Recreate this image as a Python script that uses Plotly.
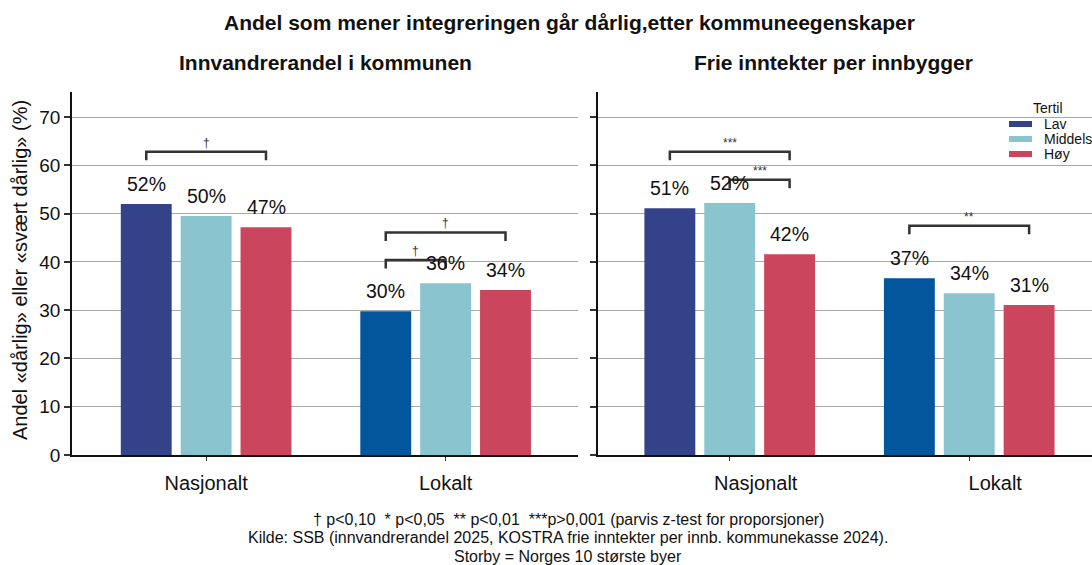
import plotly.graph_objects as go

# ---------------- data ----------------
categories = ["Nasjonalt", "Lokalt"]
tertiles = ["Lav", "Middels", "Høy"]

innv_lav = [52.0, 29.8]
innv_mid = [49.5, 35.6]
innv_hoy = [47.2, 34.2]
innv_lab_lav = ["52%", "30%"]
innv_lab_mid = ["50%", "36%"]
innv_lab_hoy = ["47%", "34%"]

frie_lav = [51.1, 36.6]
frie_mid = [52.2, 33.5]
frie_hoy = [41.6, 31.1]
frie_lab_lav = ["51%", "37%"]
frie_lab_mid = ["52%", "34%"]
frie_lab_hoy = ["42%", "31%"]

# significance brackets: (panel, category index, from tertile, to tertile, y level, symbol)
brackets = [
    (1, 0, 0, 2, 62.8, "†"),
    (1, 1, 0, 2, 46.1, "†"),
    (1, 1, 0, 1, 40.4, "†"),
    (2, 0, 0, 2, 62.8, "***"),
    (2, 0, 1, 2, 57.0, "***"),
    (2, 1, 0, 2, 47.5, "**"),
]

title = "Andel som mener integreringen går dårlig,etter kommuneegenskaper"
sub1 = "Innvandrerandel i kommunen"
sub2 = "Frie inntekter per innbygger"
ytitle = "Andel «dårlig» eller «svært dårlig» (%)"
footer = ["† p<0,10  * p<0,05  ** p<0,01  ***p>0,001 (parvis z-test for proporsjoner)",
          "Kilde: SSB (innvandrerandel 2025, KOSTRA frie inntekter per innb. kommunekasse 2024).",
          "Storby = Norges 10 største byer"]
yticks = [0, 10, 20, 30, 40, 50, 60, 70]

# ---------------- style ----------------
col_lav = ["#344289", "#02569B"]
col_mid = "#89C4CF"
col_hoy = "#CB455C"
FONT = "Liberation Sans, Arial, sans-serif"
TXT = "#111111"
offsets = [-0.25, 0.0, 0.25]

fig = go.Figure()
xpos = [0, 1]

panels = [
    ("x", "y", [innv_lav, innv_mid, innv_hoy], [innv_lab_lav, innv_lab_mid, innv_lab_hoy]),
    ("x2", "y2", [frie_lav, frie_mid, frie_hoy], [frie_lab_lav, frie_lab_mid, frie_lab_hoy]),
]
colors = [col_lav, [col_mid, col_mid], [col_hoy, col_hoy]]

annotations = []
shapes = []
for xa, ya, vals, labs in panels:
    for t in range(3):
        fig.add_trace(go.Bar(x=xpos, y=vals[t], name=tertiles[t], marker_color=colors[t],
                             marker_line_width=0, xaxis=xa, yaxis=ya, showlegend=False,
                             hoverinfo="skip"))
        for i in range(2):
            annotations.append(dict(x=xpos[i] + offsets[t], y=vals[t][i], xref=xa, yref=ya,
                                    text=labs[t][i], showarrow=False, xanchor="center",
                                    yanchor="bottom", yshift=7,
                                    font=dict(size=19.5, color=TXT, family=FONT)))

for panel, ci, a, b, yl, sym in brackets:
    xa = "x" if panel == 1 else "x2"
    ya = "y" if panel == 1 else "y2"
    x0 = ci + offsets[a]
    x1 = ci + offsets[b]
    shapes.append(dict(type="path", xref=xa, yref=ya,
                       path=f"M {x0},{yl-1.75} L {x0},{yl} L {x1},{yl} L {x1},{yl-1.75}",
                       line=dict(color="#333333", width=2.5)))
    annotations.append(dict(x=(x0 + x1) / 2, y=yl, xref=xa, yref=ya, text=sym, showarrow=False,
                            xanchor="center", yanchor="bottom", yshift=0,
                            font=dict(size=12, color="#333333", family=FONT)))

W, H = 1092, 565
L, R, T, B = 72, 0, 92, 110
pw, ph = W - L - R, H - T - B


def px(x):
    return (x - L) / pw


def py(y):
    return (H - B - y) / ph


def paper_text(x, y, text, size, xanchor="center", angle=0):
    return dict(x=px(x), y=py(y), xref="paper", yref="paper", text=text, showarrow=False,
                xanchor=xanchor, yanchor="middle", textangle=angle,
                font=dict(size=size, color=TXT, family=FONT))


annotations.append(paper_text(569, 22, f"<b>{title}</b>", 21))
annotations.append(paper_text(325, 63, f"<b>{sub1}</b>", 21))
annotations.append(paper_text(833, 63, f"<b>{sub2}</b>", 21))
for k, line in enumerate(footer):
    annotations.append(paper_text(568, 519 + 18.5 * k, line, 16))
annotations.append(paper_text(20, 270, ytitle, 20, angle=-90))

# manual legend
annotations.append(paper_text(1048, 108, "Tertil", 14))
leg_cols = [col_lav[0], col_mid, col_hoy]
for k, name in enumerate(tertiles):
    yc = 124 + 15 * k
    shapes.append(dict(type="rect", xref="paper", yref="paper", x0=px(1009), x1=px(1032),
                       y0=py(yc - 3), y1=py(yc + 3), fillcolor=leg_cols[k], line_width=0))
    annotations.append(paper_text(1042, yc, name, 14, xanchor="left"))

d1 = (578 - L) / pw
d2 = (598 - L) / pw
xr1 = [-0.56, -0.56 + (578 - 72) / 239.5]
xr2 = [-0.55, -0.55 + (1092 - 598) / 239.5]
yr = [0, 75.2]

common_x = dict(tickvals=xpos, ticktext=categories, showline=True, linecolor="#111", linewidth=1.5,
                ticks="outside", ticklen=4, tickwidth=1, tickcolor="#333",
                showgrid=False, zeroline=False, ticklabelstandoff=5,
                tickfont=dict(size=20, color=TXT, family=FONT))
common_y = dict(range=yr, tickvals=yticks, showline=True, linecolor="#111", linewidth=1.5,
                ticks="outside", ticklen=6, tickcolor="#333", tickwidth=1.5,
                showgrid=True, gridcolor="#a8a8a8", gridwidth=1, zeroline=False,
                tickfont=dict(size=19, color=TXT, family=FONT))

fig.update_layout(
    width=W, height=H,
    margin=dict(l=L, r=R, t=T, b=B),
    paper_bgcolor="white", plot_bgcolor="white",
    barmode="group", bargap=0.25, bargroupgap=0.15,
    showlegend=False,
    font=dict(family=FONT, color=TXT),
    xaxis=dict(domain=[0, d1], range=xr1, anchor="y", **common_x),
    xaxis2=dict(domain=[d2, 1], range=xr2, anchor="y2", ticklabelshift=26, **common_x),
    yaxis=dict(domain=[0, 1], anchor="x", **common_y),
    yaxis2=dict(domain=[0, 1], anchor="x2", showticklabels=False, **common_y),
    annotations=annotations,
    shapes=shapes,
)

fig.write_html("out.html", config={"displayModeBar": False},
               post_script="document.body.style.margin='0';document.body.style.overflow='hidden';")
